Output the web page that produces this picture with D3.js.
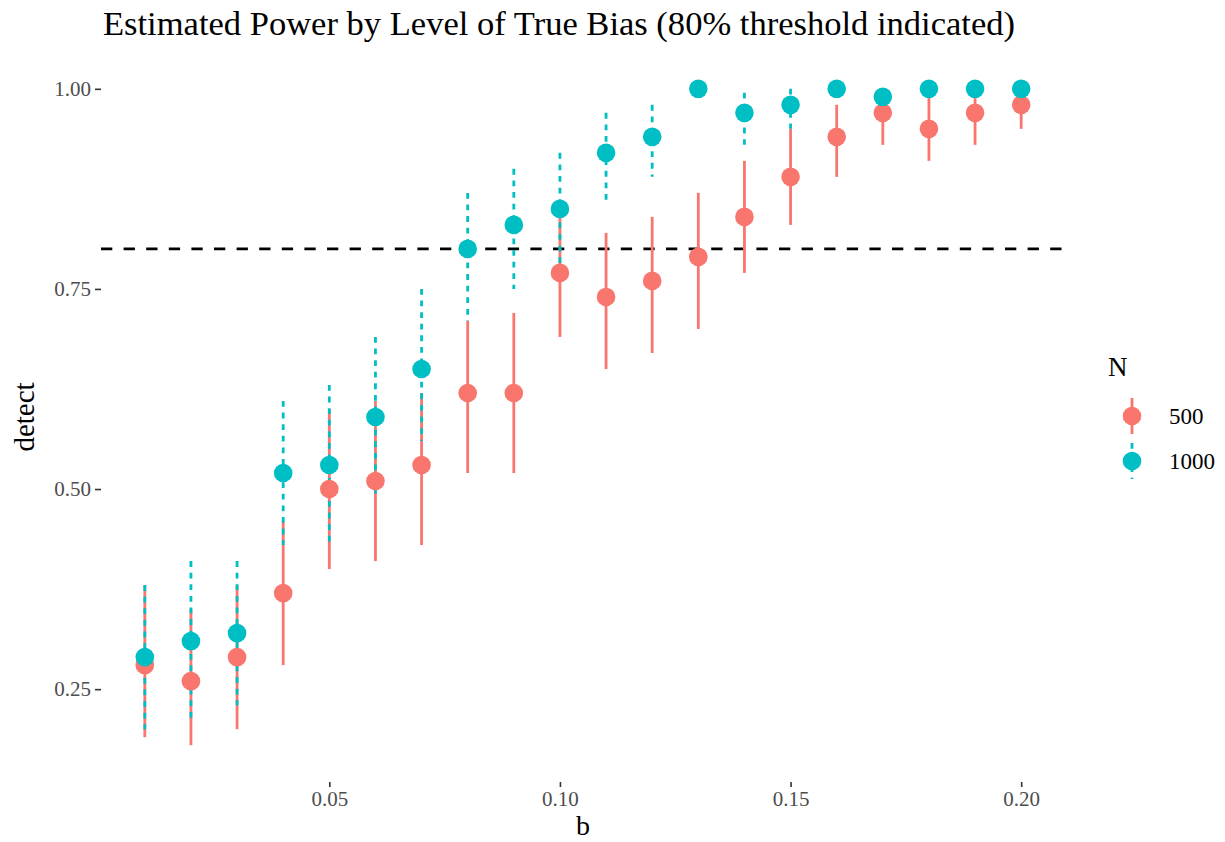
<!DOCTYPE html>
<html>
<head>
<meta charset="utf-8">
<script src="https://cdn.jsdelivr.net/npm/d3@7"></script>
<style>
  body { margin: 0; background: #fff; }
  text { font-family: "Liberation Serif", "DejaVu Serif", serif; }
</style>
</head>
<body>
<div id="chart"></div>
<script>
const bValues = [0.01, 0.02, 0.03, 0.04, 0.05, 0.06, 0.07, 0.08, 0.09, 0.10,
                 0.11, 0.12, 0.13, 0.14, 0.15, 0.16, 0.17, 0.18, 0.19, 0.20];

const detect500 = [0.28, 0.26, 0.29, 0.37, 0.50, 0.51, 0.53, 0.62, 0.62, 0.77,
                   0.74, 0.76, 0.79, 0.84, 0.89, 0.94, 0.97, 0.95, 0.97, 0.98];
const lower500  = [0.19, 0.18, 0.20, 0.28, 0.40, 0.41, 0.43, 0.52, 0.52, 0.69,
                   0.65, 0.67, 0.70, 0.77, 0.83, 0.89, 0.93, 0.91, 0.93, 0.95];
const upper500  = [0.38, 0.35, 0.38, 0.46, 0.60, 0.61, 0.62, 0.71, 0.72, 0.85,
                   0.82, 0.84, 0.87, 0.91, 0.95, 0.98, 1.00, 0.99, 1.00, 1.00];

const detect1000 = [0.29, 0.31, 0.32, 0.52, 0.53, 0.59, 0.65, 0.80, 0.83, 0.85,
                    0.92, 0.94, 1.00, 0.97, 0.98, 1.00, 0.99, 1.00, 1.00, 1.00];
const lower1000  = [0.20, 0.21, 0.23, 0.43, 0.43, 0.49, 0.56, 0.71, 0.75, 0.78,
                    0.86, 0.89, 1.00, 0.93, 0.95, 1.00, 0.97, 1.00, 1.00, 1.00];
const upper1000  = [0.38, 0.41, 0.41, 0.61, 0.63, 0.69, 0.75, 0.87, 0.90, 0.92,
                    0.97, 0.98, 1.00, 0.995, 1.00, 1.00, 1.00, 1.00, 1.00, 1.00];

const groups = ["500", "1000"];
const groupColors = ["#F8766D", "#00BFC4"];
const groupDash = [null, "5.8,5.8"];

const xTicks = [0.05, 0.10, 0.15, 0.20];
const yTicks = [0.25, 0.50, 0.75, 1.00];
const threshold = 0.80;

const titleText = "Estimated Power by Level of True Bias (80% threshold indicated)";

const width = 1225, height = 842;
const panel = { left: 101, right: 1065, top: 56, bottom: 778 };

const series = [
    bValues.map((b, i) => ({ b, y: detect500[i], lo: lower500[i], hi: upper500[i], g: 0 })),
    bValues.map((b, i) => ({ b, y: detect1000[i], lo: lower1000[i], hi: upper1000[i], g: 1 }))
];
const allData = series.flat();

// ggplot style 5% expansion
function expand(ext) {
    const pad = (ext[1] - ext[0]) * 0.05;
    return [ext[0] - pad, ext[1] + pad];
}

const x = d3.scaleLinear()
    .domain(expand(d3.extent(bValues)))
    .range([panel.left, panel.right]);

const y = d3.scaleLinear()
    .domain(expand([d3.min(allData, d => d.lo), d3.max(allData, d => d.hi)]))
    .range([panel.bottom, panel.top]);

const svg = d3.select("#chart")
    .append("svg")
    .attr("width", width)
    .attr("height", height);

// title
svg.append("text")
    .attr("x", 103)
    .attr("y", 35)
    .attr("font-size", 34)
    .attr("textLength", 912)
    .attr("lengthAdjust", "spacingAndGlyphs")
    .attr("fill", "#000")
    .text(titleText);

// y axis
const yAxis = svg.append("g")
    .attr("transform", `translate(${panel.left},0)`)
    .call(d3.axisLeft(y).tickValues(yTicks).tickFormat(d3.format(".2f")).tickSizeOuter(0).tickSize(6).tickPadding(4));
yAxis.select(".domain").remove();
yAxis.selectAll("line").attr("stroke", "#333").attr("stroke-width", 1.6);
yAxis.selectAll("text")
    .attr("fill", "#4D4D4D")
    .attr("font-size", 21)
    .attr("font-family", "Liberation Serif");

// x axis
const xAxis = svg.append("g")
    .attr("transform", `translate(0,${panel.bottom + 4})`)
    .call(d3.axisBottom(x).tickValues(xTicks).tickFormat(d3.format(".2f")).tickSizeOuter(0).tickSize(5).tickPadding(4));
xAxis.select(".domain").remove();
xAxis.selectAll("line").attr("stroke", "#333").attr("stroke-width", 1.6);
xAxis.selectAll("text")
    .attr("fill", "#4D4D4D")
    .attr("font-size", 21)
    .attr("font-family", "Liberation Serif");

// axis titles
svg.append("text")
    .attr("x", (panel.left + panel.right) / 2)
    .attr("y", 835)
    .attr("text-anchor", "middle")
    .attr("font-size", 28)
    .text("b");

svg.append("text")
    .attr("transform", `translate(34,${(panel.top + panel.bottom) / 2}) rotate(-90)`)
    .attr("text-anchor", "middle")
    .attr("font-size", 29)
    .text("detect");

// threshold line
svg.append("line")
    .attr("x1", panel.left)
    .attr("x2", panel.right)
    .attr("y1", y(threshold))
    .attr("y2", y(threshold))
    .attr("stroke", "#000")
    .attr("stroke-width", 2.6)
    .attr("stroke-dasharray", "11.3,11.3");

// ranges, then points (like geom_pointrange)
series.forEach((data, g) => {
    svg.append("g")
        .selectAll("line")
        .data(data.filter(d => d.hi > d.lo))
        .join("line")
        .attr("x1", d => x(d.b))
        .attr("x2", d => x(d.b))
        .attr("y1", d => y(d.hi))
        .attr("y2", d => y(d.lo))
        .attr("stroke", groupColors[g])
        .attr("stroke-width", 2.8)
        .attr("stroke-dasharray", groupDash[g]);
});

series.forEach((data, g) => {
    svg.append("g")
        .selectAll("circle")
        .data(data)
        .join("circle")
        .attr("cx", d => x(d.b))
        .attr("cy", d => y(d.y))
        .attr("r", 9.3)
        .attr("fill", groupColors[g]);
});

// legend
const legend = svg.append("g").attr("transform", "translate(1108,0)");
legend.append("text")
    .attr("x", 0)
    .attr("y", 376)
    .attr("font-size", 27)
    .text("N");

groups.forEach((name, g) => {
    const cy = 416 + g * 45;
    legend.append("line")
        .attr("x1", 24).attr("x2", 24)
        .attr("y1", cy - 18).attr("y2", cy + 18)
        .attr("stroke", groupColors[g])
        .attr("stroke-width", 2.8)
        .attr("stroke-dasharray", groupDash[g]);
    legend.append("circle")
        .attr("cx", 24).attr("cy", cy)
        .attr("r", 9.3)
        .attr("fill", groupColors[g]);
    legend.append("text")
        .attr("x", 61)
        .attr("y", cy + 8)
        .attr("font-size", 23)
        .text(name);
});
</script>
</body>
</html>
